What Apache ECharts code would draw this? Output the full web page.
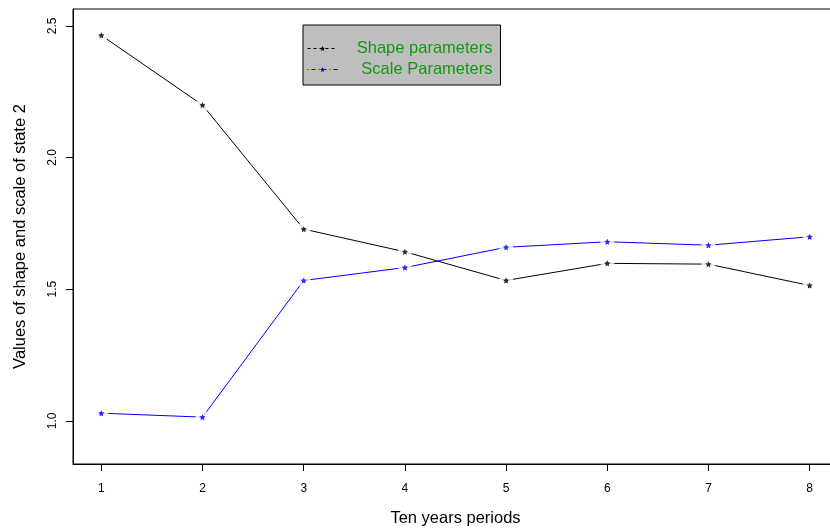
<!DOCTYPE html>
<html>
<head>
<meta charset="utf-8">
<title>Shape and scale parameters of state 2</title>
<script src="https://cdn.jsdelivr.net/npm/echarts@6/dist/echarts.min.js"></script>
<style>
  html, body { margin: 0; padding: 0; background: #ffffff; }
  #chart { width: 830px; height: 529px; }
</style>
</head>
<body>
<div id="chart"></div>
<script>
// Ten-year periods on the x axis
const periods = [1, 2, 3, 4, 5, 6, 7, 8];

// Estimated parameters of state 2 for each period
const shapeValues = [2.464, 2.199, 1.728, 1.642, 1.533, 1.598, 1.595, 1.514];
const scaleValues = [1.029, 1.014, 1.533, 1.582, 1.659, 1.680, 1.667, 1.699];

// Tick positions
const xTicks = [1, 2, 3, 4, 5, 6, 7, 8];
const yTicks = [1.0, 1.5, 2.0, 2.5];

const seriesNames = ['Shape parameters', 'Scale Parameters'];

const FONT = '"Liberation Sans", Arial, Helvetica, sans-serif';

// small five-pointed star used as the point marker
const STAR = 'path://M0,-10 L2.9,-4 9.5,-3.1 4.7,1.5 5.9,8.1 0,5 -5.9,8.1 -4.7,1.5 -9.5,-3.1 -2.9,-4 Z';

function pairs(values) {
  return periods.map((p, i) => [p, values[i]]);
}

const chart = echarts.init(document.getElementById('chart'), null, { renderer: 'canvas' });

function lineSeries(name, values, color) {
  return {
    name: name,
    type: 'line',
    data: pairs(values),
    symbol: STAR,
    symbolSize: 6,
    showSymbol: true,
    itemStyle: { color: color },
    lineStyle: { color: color, width: 1 },
    emphasis: { disabled: true },
    animation: false,
    z: 2
  };
}

// white discs open a small gap in the line around every point
function gapSeries(values) {
  return {
    type: 'scatter',
    data: pairs(values),
    symbol: 'circle',
    symbolSize: 14,
    itemStyle: { color: '#ffffff' },
    silent: true,
    animation: false,
    z: 3
  };
}

function starSeries(values, color) {
  return {
    type: 'scatter',
    data: pairs(values),
    symbol: STAR,
    symbolSize: 6,
    itemStyle: { color: color },
    silent: true,
    animation: false,
    z: 4
  };
}

const option = {
  backgroundColor: '#ffffff',
  animation: false,
  grid: {
    left: 73,
    top: 9,
    width: 765,
    height: 455,
    outerBoundsMode: 'none',
    containLabel: false,
    show: true,
    borderColor: '#000000',
    borderWidth: 1,
    backgroundColor: 'transparent'
  },
  legend: {
    left: 303,
    top: 25,
    orient: 'vertical',
    backgroundColor: '#bebebe',
    borderColor: '#000000',
    borderWidth: 1,
    borderRadius: 0,
    padding: [15, 8, 7, 4],
    itemGap: 4,
    itemWidth: 30,
    itemHeight: 6,
    selectedMode: false,
    formatter: name => '{t|' + name + '}',
    textStyle: {
      rich: {
        t: {
          fontFamily: FONT,
          fontSize: 16.5,
          color: '#119911',
          width: 150,
          align: 'right'
        }
      }
    },
    data: [
      { name: seriesNames[0], lineStyle: { type: [3, 3], width: 1, color: '#000000' } },
      { name: seriesNames[1], lineStyle: { type: [1, 3, 4, 3], width: 1, color: '#0000ff' } }
    ]
  },
  xAxis: {
    type: 'value',
    min: 0.72,
    max: 8.28,
    name: 'Ten years periods',
    nameLocation: 'middle',
    nameGap: 46,
    nameTextStyle: { fontFamily: FONT, fontSize: 16.5, color: '#000000' },
    axisLine: { show: true, lineStyle: { color: '#000000', width: 1 } },
    axisTick: { show: true, length: 7, inside: false, customValues: xTicks, lineStyle: { color: '#000000' } },
    axisLabel: { customValues: xTicks, margin: 19, fontFamily: FONT, fontSize: 12, color: '#000000' },
    splitLine: { show: false }
  },
  yAxis: {
    type: 'value',
    min: 0.836,
    max: 2.564,
    name: 'Values of shape and scale of state 2',
    nameLocation: 'middle',
    nameGap: 44,
    nameRotate: 90,
    nameTextStyle: { fontFamily: FONT, fontSize: 16.5, color: '#000000' },
    axisLine: { show: true, lineStyle: { color: '#000000', width: 1 } },
    axisTick: { show: true, length: 7, inside: false, customValues: yTicks, lineStyle: { color: '#000000' } },
    axisLabel: {
      customValues: yTicks,
      rotate: 90,
      margin: 14,
      fontFamily: FONT,
      fontSize: 12,
      color: '#000000',
      formatter: v => v.toFixed(1)
    },
    splitLine: { show: false }
  },
  series: [
    lineSeries(seriesNames[0], shapeValues, '#000000'),
    lineSeries(seriesNames[1], scaleValues, '#0000ff'),
    gapSeries(shapeValues),
    gapSeries(scaleValues),
    starSeries(shapeValues, '#000000'),
    starSeries(scaleValues, '#0000ff')
  ]
};

chart.setOption(option);
</script>
</body>
</html>
